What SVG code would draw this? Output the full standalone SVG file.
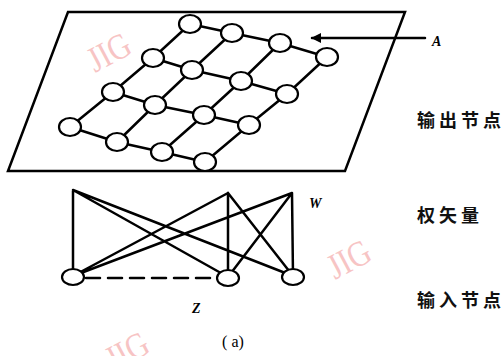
<svg xmlns="http://www.w3.org/2000/svg" width="504" height="356" viewBox="0 0 504 356">
<style>
.l{stroke:#000;stroke-width:2.5;fill:none;stroke-linecap:round}
.n{fill:#fff;stroke:#000;stroke-width:2.2}
.wm{font-family:"Liberation Serif",serif;font-size:36px;fill:#f7c4c4}
.cn{font-family:"Noto Sans CJK SC",sans-serif;font-size:18px;font-weight:bold;letter-spacing:4px;fill:#111}
.it{font-family:"Liberation Serif",serif;font-style:italic;font-weight:bold;font-size:14px;fill:#000}
</style>
<defs>
<marker id="ah" markerWidth="10" markerHeight="10" refX="9" refY="5" orient="auto" markerUnits="userSpaceOnUse">
<path d="M0,5 L10,0 L10,10 Z" transform="rotate(180 5 5)" fill="#000"/>
</marker>
</defs>
<rect width="504" height="356" fill="#fff"/>
<g id="watermarks">
<text class="wm" transform="translate(95,73) rotate(-28) scale(0.85,1)">JIG</text>
<text class="wm" transform="translate(335,280) rotate(-28) scale(0.85,1)">JIG</text>
<text class="wm" transform="translate(113,372) rotate(-28) scale(0.85,1)">JIG</text>
</g>
<g id="plane"><path class="l" d="M68,12 L405,12 L345,171 L8,171 Z" stroke-linejoin="miter"/></g>
<g id="connectors">
<path class="l" d="M190,24 L232,33 L280,43 L327,57 M153,58 L192,70 L241,81 L287,94 M113,92 L155,105 L204,115 L249,125 M70,127 L117,142 L162,152 L205,162 M190,24 L153,58 L113,92 L70,127 M232,33 L192,70 L155,105 L117,142 M280,43 L241,81 L204,115 L162,152 M327,57 L287,94 L249,125 L205,162"/>
<path class="l" d="M425,38 L312,38" marker-end="url(#ah)"/>
<path class="l" d="M73,190 L73,276 M73,190 L228,277 M73,190 L293,276 M228,193 L228,277 M228,193 L73,276 M228,193 L293,276 M292,193 L293,276 M292,193 L73,276 M292,193 L228,277"/>
<path class="l" d="M86,278 L216,278" stroke-dasharray="14,8" stroke-linecap="butt"/>
</g>
<g id="grid-nodes">
<ellipse class="n" cx="190" cy="24" rx="11" ry="9"/>
<ellipse class="n" cx="232" cy="33" rx="11" ry="9"/>
<ellipse class="n" cx="280" cy="43" rx="11" ry="9"/>
<ellipse class="n" cx="327" cy="57" rx="11" ry="9"/>
<ellipse class="n" cx="153" cy="58" rx="11" ry="9"/>
<ellipse class="n" cx="192" cy="70" rx="11" ry="9"/>
<ellipse class="n" cx="241" cy="81" rx="11" ry="9"/>
<ellipse class="n" cx="287" cy="94" rx="11" ry="9"/>
<ellipse class="n" cx="113" cy="92" rx="11" ry="9"/>
<ellipse class="n" cx="155" cy="105" rx="11" ry="9"/>
<ellipse class="n" cx="204" cy="115" rx="11" ry="9"/>
<ellipse class="n" cx="249" cy="125" rx="11" ry="9"/>
<ellipse class="n" cx="70" cy="127" rx="11" ry="9"/>
<ellipse class="n" cx="117" cy="142" rx="11" ry="9"/>
<ellipse class="n" cx="162" cy="152" rx="11" ry="9"/>
<ellipse class="n" cx="205" cy="162" rx="11" ry="9"/>
</g>
<g id="input-nodes">
<ellipse class="n" cx="73" cy="277" rx="11" ry="8"/>
<ellipse class="n" cx="228" cy="278" rx="11" ry="8"/>
<ellipse class="n" cx="293" cy="277" rx="11" ry="8"/>
</g>
<g id="labels">
<text class="it" x="432" y="46">A</text>
<text class="it" x="309" y="208">W</text>
<text class="it" x="192" y="313">Z</text>
<text x="233" y="347" text-anchor="middle" font-family="Liberation Serif,serif" font-size="16">( a)</text>
<text class="cn" x="417" y="127">输出节点</text>
<text class="cn" x="417" y="222">权矢量</text>
<text class="cn" x="417" y="307">输入节点</text>
</g>
</svg>
